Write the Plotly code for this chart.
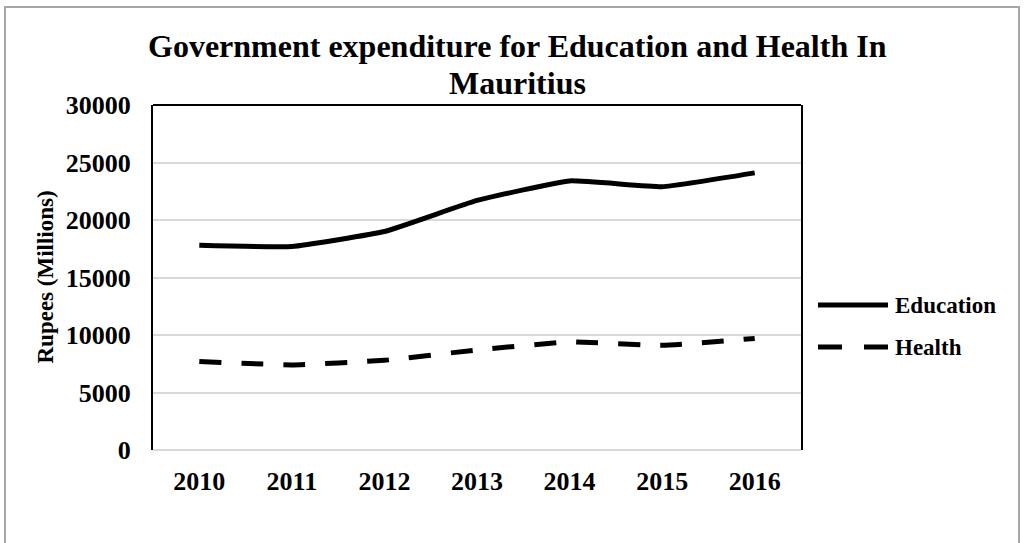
import plotly.graph_objects as go

# Government expenditure, Rupees (Millions)
years = ["2010", "2011", "2012", "2013", "2014", "2015", "2016"]
education = [17800, 17700, 19000, 21700, 23400, 22900, 24100]
health = [7700, 7400, 7800, 8700, 9400, 9100, 9700]
y_ticks = [0, 5000, 10000, 15000, 20000, 25000, 30000]
title_lines = ["Government expenditure for Education and Health In", "Mauritius"]

W, H = 1028, 543
L, R, T, B = 153, 227, 105, 93
PW, PH = W - L - R, H - T - B


def px_x(x):
    return (x - L) / PW


def px_y(y):
    return (H - B - y) / PH


FONT = "Liberation Serif"

fig = go.Figure()
fig.add_trace(go.Scatter(
    x=years, y=education, name="Education", mode="lines",
    line=dict(color="black", width=5, shape="spline", smoothing=0.35),
    showlegend=False,
))
fig.add_trace(go.Scatter(
    x=years, y=health, name="Health", mode="lines",
    line=dict(color="black", width=5, dash="22px,20px", shape="spline", smoothing=0.35),
    showlegend=False,
))

shapes = [
    # outer frame
    dict(type="rect", xref="paper", yref="paper",
         x0=px_x(5), x1=px_x(1019), y0=px_y(7), y1=px_y(600),
         line=dict(color="#a6a6a6", width=2), fillcolor="rgba(0,0,0,0)"),
    # top edge of the plot box
    dict(type="line", xref="paper", yref="paper", x0=0, x1=1, y0=1, y1=1,
         line=dict(color="black", width=2)),
    # legend keys
    dict(type="line", xref="paper", yref="paper",
         x0=px_x(818), x1=px_x(888), y0=px_y(305), y1=px_y(305),
         line=dict(color="black", width=5)),
    dict(type="line", xref="paper", yref="paper",
         x0=px_x(818), x1=px_x(888), y0=px_y(347), y1=px_y(347),
         line=dict(color="black", width=5, dash="24px,22px")),
]

annotations = [
    dict(text=f"<b>{title_lines[0]}</b>", xref="paper", yref="paper",
         x=px_x(517), y=px_y(46), xanchor="center", yanchor="middle",
         showarrow=False, font=dict(family=FONT, size=32, color="black")),
    dict(text=f"<b>{title_lines[1]}</b>", xref="paper", yref="paper",
         x=px_x(517), y=px_y(83), xanchor="center", yanchor="middle",
         showarrow=False, font=dict(family=FONT, size=32, color="black")),
    dict(text="<b>Education</b>", xref="paper", yref="paper",
         x=px_x(893), y=px_y(305), xanchor="left", yanchor="middle",
         showarrow=False, font=dict(family=FONT, size=23, color="black")),
    dict(text="<b>Health</b>", xref="paper", yref="paper",
         x=px_x(893), y=px_y(347), xanchor="left", yanchor="middle",
         showarrow=False, font=dict(family=FONT, size=23, color="black")),
    dict(text="<b>Rupees (Millions)</b>", xref="paper", yref="paper",
         x=px_x(45), y=0.5, xanchor="center", yanchor="middle", textangle=-90,
         showarrow=False, font=dict(family=FONT, size=23, color="black")),
]

fig.update_layout(
    width=W, height=H,
    margin=dict(l=L, r=R, t=T, b=B),
    paper_bgcolor="white", plot_bgcolor="white",
    shapes=shapes,
    annotations=annotations,
    showlegend=False,
)
fig.update_xaxes(
    type="category", range=[-0.5, 6.5], showgrid=False, showline=False,
    ticks="", ticklabelstandoff=13,
    tickvals=years, ticktext=[f"<b>{y}</b>" for y in years],
    tickfont=dict(family=FONT, size=26, color="black"),
)
fig.update_yaxes(
    range=[0, 30000], tickvals=y_ticks, ticktext=[f"<b>{v}</b>" for v in y_ticks],
    showgrid=True, gridcolor="#d9d9d9", gridwidth=2,
    zeroline=True, zerolinecolor="#d9d9d9", zerolinewidth=2,
    showline=True, mirror=True, linecolor="black", linewidth=2,
    ticks="", ticklabelstandoff=15,
    tickfont=dict(family=FONT, size=26, color="black"),
)

fig.write_html("out.html")
